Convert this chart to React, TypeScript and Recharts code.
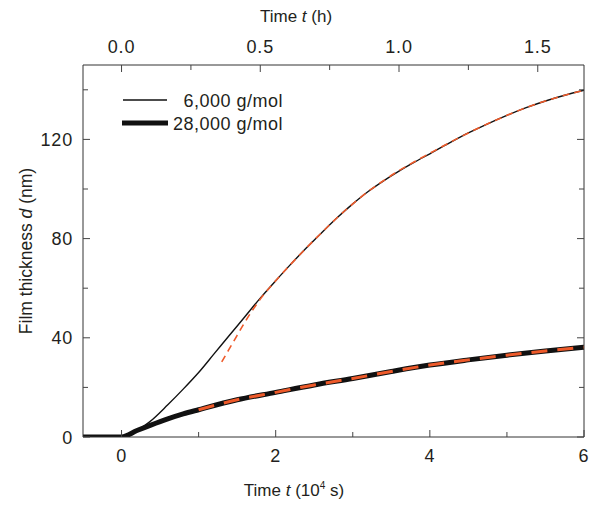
import React from 'react';
import { LineChart, Line, XAxis, YAxis, Legend } from 'recharts';

const FONT = '"Liberation Sans", Arial, sans-serif';
const INK = '#231f20';
const FIT = '#ee5a2a';

// 6,000 g/mol film (thin line)
const lowT = [-0.5, 0, 0.2, 0.36, 0.6, 0.8, 1.0, 1.2, 1.4, 1.6, 1.8, 2.0, 2.2, 2.4, 2.6, 2.8, 3.0, 3.2, 3.4, 3.6, 3.8, 4.0, 4.25, 4.5, 4.75, 5.0, 5.25, 5.5, 5.75, 6.0];
const lowD = [0, 0, 2.6, 6.0, 13.0, 19.3, 26, 33.5, 41, 48.5, 56, 63, 69.8, 76.3, 82.5, 88.5, 94, 99, 103.3, 107.2, 110.8, 114.2, 118.5, 122.6, 126.3, 129.7, 132.8, 135.5, 137.8, 139.8];

// 28,000 g/mol film (thick line)
const highT = [-0.5, 0, 0.2, 0.38, 0.6, 0.8, 1.0, 1.5, 2.0, 2.5, 3.0, 3.5, 4.0, 4.5, 5.0, 5.5, 6.0];
const highD = [0, 0, 2.6, 4.8, 7.3, 9.3, 11, 15, 18, 21, 23.6, 26.4, 29, 31.1, 33, 34.7, 36.2];

// fitted curves (red dashed)
const lowFitT = [1.3, 1.45, 1.6, 1.8, 2.0, 2.2, 2.4, 2.6, 2.8, 3.0, 3.2, 3.4, 3.6, 3.8, 4.0, 4.25, 4.5, 4.75, 5.0, 5.25, 5.5, 5.75, 6.0];
const lowFitD = [30.3, 38.3, 46.3, 55.6, 63, 69.8, 76.3, 82.5, 88.5, 94, 99, 103.4, 107.4, 111, 114.4, 118.6, 122.6, 126.3, 129.7, 132.8, 135.5, 137.8, 139.8];
const highFitT = [1.0, 1.5, 2.0, 2.5, 3.0, 3.5, 4.0, 4.5, 5.0, 5.5, 6.0];
const highFitD = [11, 15, 18, 21, 23.6, 26.4, 29, 31.1, 33, 34.7, 36.2];

const seriesNames = ['6,000 g/mol', '28,000 g/mol'];

const bottomTicks = [0, 1, 2, 3, 4, 5, 6];
const bottomMajor = [0, 2, 4, 6];
const topTicks = [0, 0.25, 0.5, 0.75, 1, 1.25, 1.5];
const topMajor = [0, 0.5, 1, 1.5];
const yTicks = [0, 20, 40, 60, 80, 100, 120, 140];
const yMajor = [0, 40, 80, 120];

// top axis shows the same time scale, 3.6 units of 10^4 s per labelled unit
const TOP_SCALE = 3.6;

const toPoints = (ts: number[], ds: number[]) => ts.map((t, i) => ({ t, d: ds[i] }));

const lowData = toPoints(lowT, lowD);
const highData = toPoints(highT, highD);
const lowFit = toPoints(lowFitT, lowFitD);
const highFit = toPoints(highFitT, highFitD);
const topData = lowT.map((t, i) => ({ h: t / TOP_SCALE, d: lowD[i] }));

type Side = 'bottom' | 'top' | 'left' | 'right';

const makeTick = (side: Side, majors: number[], fmt: (v: number) => string) => (props: any) => {
    const { x, y, payload } = props;
    const v = payload.value;
    const major = majors.includes(v);
    const len = major ? 7 : 5;
    let line;
    let label = null;
    if (side === 'bottom') {
        line = <line x1={x} y1={y} x2={x} y2={y - len} stroke="#444" />;
        if (major) label = <text x={x} y={y + 25} textAnchor="middle">{fmt(v)}</text>;
    } else if (side === 'top') {
        line = <line x1={x} y1={y} x2={x} y2={y + len} stroke="#444" />;
        if (major) label = <text x={x} y={y - 12} textAnchor="middle">{fmt(v)}</text>;
    } else if (side === 'left') {
        line = <line x1={x} y1={y} x2={x + len} y2={y} stroke="#444" />;
        if (major) label = <text x={x - 10} y={y + 6.5} textAnchor="end">{fmt(v)}</text>;
    } else {
        line = <line x1={x} y1={y} x2={x - len} y2={y} stroke="#444" />;
    }
    return (
        <g fontFamily={FONT} fontSize={18} letterSpacing={0.8} fill={INK}>
            {line}
            {label}
        </g>
    );
};

const renderLegend = () => (
    <svg width={200} height={52} style={{ overflow: 'visible' }}>
        <line x1={8} y1={15} x2={52} y2={15} stroke="#111" strokeWidth={1.4} />
        <line x1={7} y1={38} x2={53} y2={38} stroke="#111" strokeWidth={5} />
        <g fontFamily={FONT} fontSize={18} letterSpacing={0.5} fill={INK}>
            <text x={168} y={22} textAnchor="end">{seriesNames[0]}</text>
            <text x={168} y={45} textAnchor="end">{seriesNames[1]}</text>
        </g>
    </svg>
);

const bottomTitle = () => (
    <text x={294} y={496} textAnchor="middle" fontFamily={FONT} fontSize={17} fill={INK}>
        Time <tspan fontStyle="italic">t</tspan> (10<tspan dy={-7} fontSize={10}>4</tspan><tspan dy={7}> s)</tspan>
    </text>
);

const topTitle = () => (
    <text x={296} y={22} textAnchor="middle" fontFamily={FONT} fontSize={17} fill={INK}>
        Time <tspan fontStyle="italic">t</tspan> (h)
    </text>
);

const leftTitle = () => (
    <text x={0} y={0} transform="translate(32, 251) rotate(-90)" textAnchor="middle" fontFamily={FONT} fontSize={17.5} fill={INK}>
        Film thickness <tspan fontStyle="italic">d</tspan> (nm)
    </text>
);

export default function App() {
    return (
        <div style={{ position: 'absolute', left: 0, top: 0, background: '#fff' }}>
            <LineChart width={595} height={505} margin={{ top: 0, right: 10, bottom: 0, left: 0 }}>
                <XAxis
                    type="number"
                    dataKey="t"
                    domain={[-0.5, 6]}
                    ticks={bottomTicks}
                    allowDataOverflow
                    height={68}
                    tickSize={0}
                    tickMargin={0}
                    tickLine={false}
                    axisLine={{ stroke: '#333' }}
                    tick={makeTick('bottom', bottomMajor, (v) => String(v))}
                    interval={0}
                    label={bottomTitle}
                />
                <XAxis
                    xAxisId="top"
                    orientation="top"
                    type="number"
                    dataKey="h"
                    domain={[-0.5 / TOP_SCALE, 6 / TOP_SCALE]}
                    ticks={topTicks}
                    allowDataOverflow
                    height={65}
                    tickSize={0}
                    tickMargin={0}
                    tickLine={false}
                    axisLine={{ stroke: '#333' }}
                    tick={makeTick('top', topMajor, (v) => v.toFixed(1))}
                    interval={0}
                    label={topTitle}
                />
                <YAxis
                    type="number"
                    domain={[0, 150]}
                    ticks={yTicks}
                    allowDataOverflow
                    width={83}
                    tickSize={0}
                    tickMargin={0}
                    tickLine={false}
                    axisLine={{ stroke: '#333' }}
                    tick={makeTick('left', yMajor, (v) => String(v))}
                    interval={0}
                    label={leftTitle}
                />
                <YAxis
                    yAxisId="r"
                    orientation="right"
                    type="number"
                    domain={[0, 150]}
                    ticks={yTicks}
                    allowDataOverflow
                    width={1}
                    tickSize={0}
                    tickMargin={0}
                    tickLine={false}
                    axisLine={{ stroke: '#333' }}
                    tick={makeTick('right', yMajor, (v) => String(v))}
                    interval={0}
                />
                <Legend
                    layout="horizontal"
                    verticalAlign="middle"
                    align="center"
                    content={renderLegend}
                    wrapperStyle={{ position: 'absolute', left: 115, top: 85, width: 200, height: 52 }}
                />
                {/* invisible carrier so the hour axis on top gets drawn */}
                <Line xAxisId="top" data={topData} dataKey="d" name="hours" type="monotone" stroke="none" dot={false} activeDot={false} legendType="none" isAnimationActive={false} />
                <Line data={highData} dataKey="d" name={seriesNames[1]} type="monotone" stroke="#111" strokeWidth={5} dot={false} isAnimationActive={false} />
                <Line data={lowData} dataKey="d" name={seriesNames[0]} type="monotone" stroke="#111" strokeWidth={1.4} dot={false} isAnimationActive={false} />
                <Line data={highFit} dataKey="d" name="fit 28,000" type="monotone" stroke={FIT} strokeWidth={3} strokeDasharray="16 10" dot={false} legendType="none" isAnimationActive={false} />
                <Line data={lowFit} dataKey="d" name="fit 6,000" type="monotone" stroke={FIT} strokeWidth={1.6} strokeDasharray="7 5" dot={false} legendType="none" isAnimationActive={false} />
            </LineChart>
        </div>
    );
}
